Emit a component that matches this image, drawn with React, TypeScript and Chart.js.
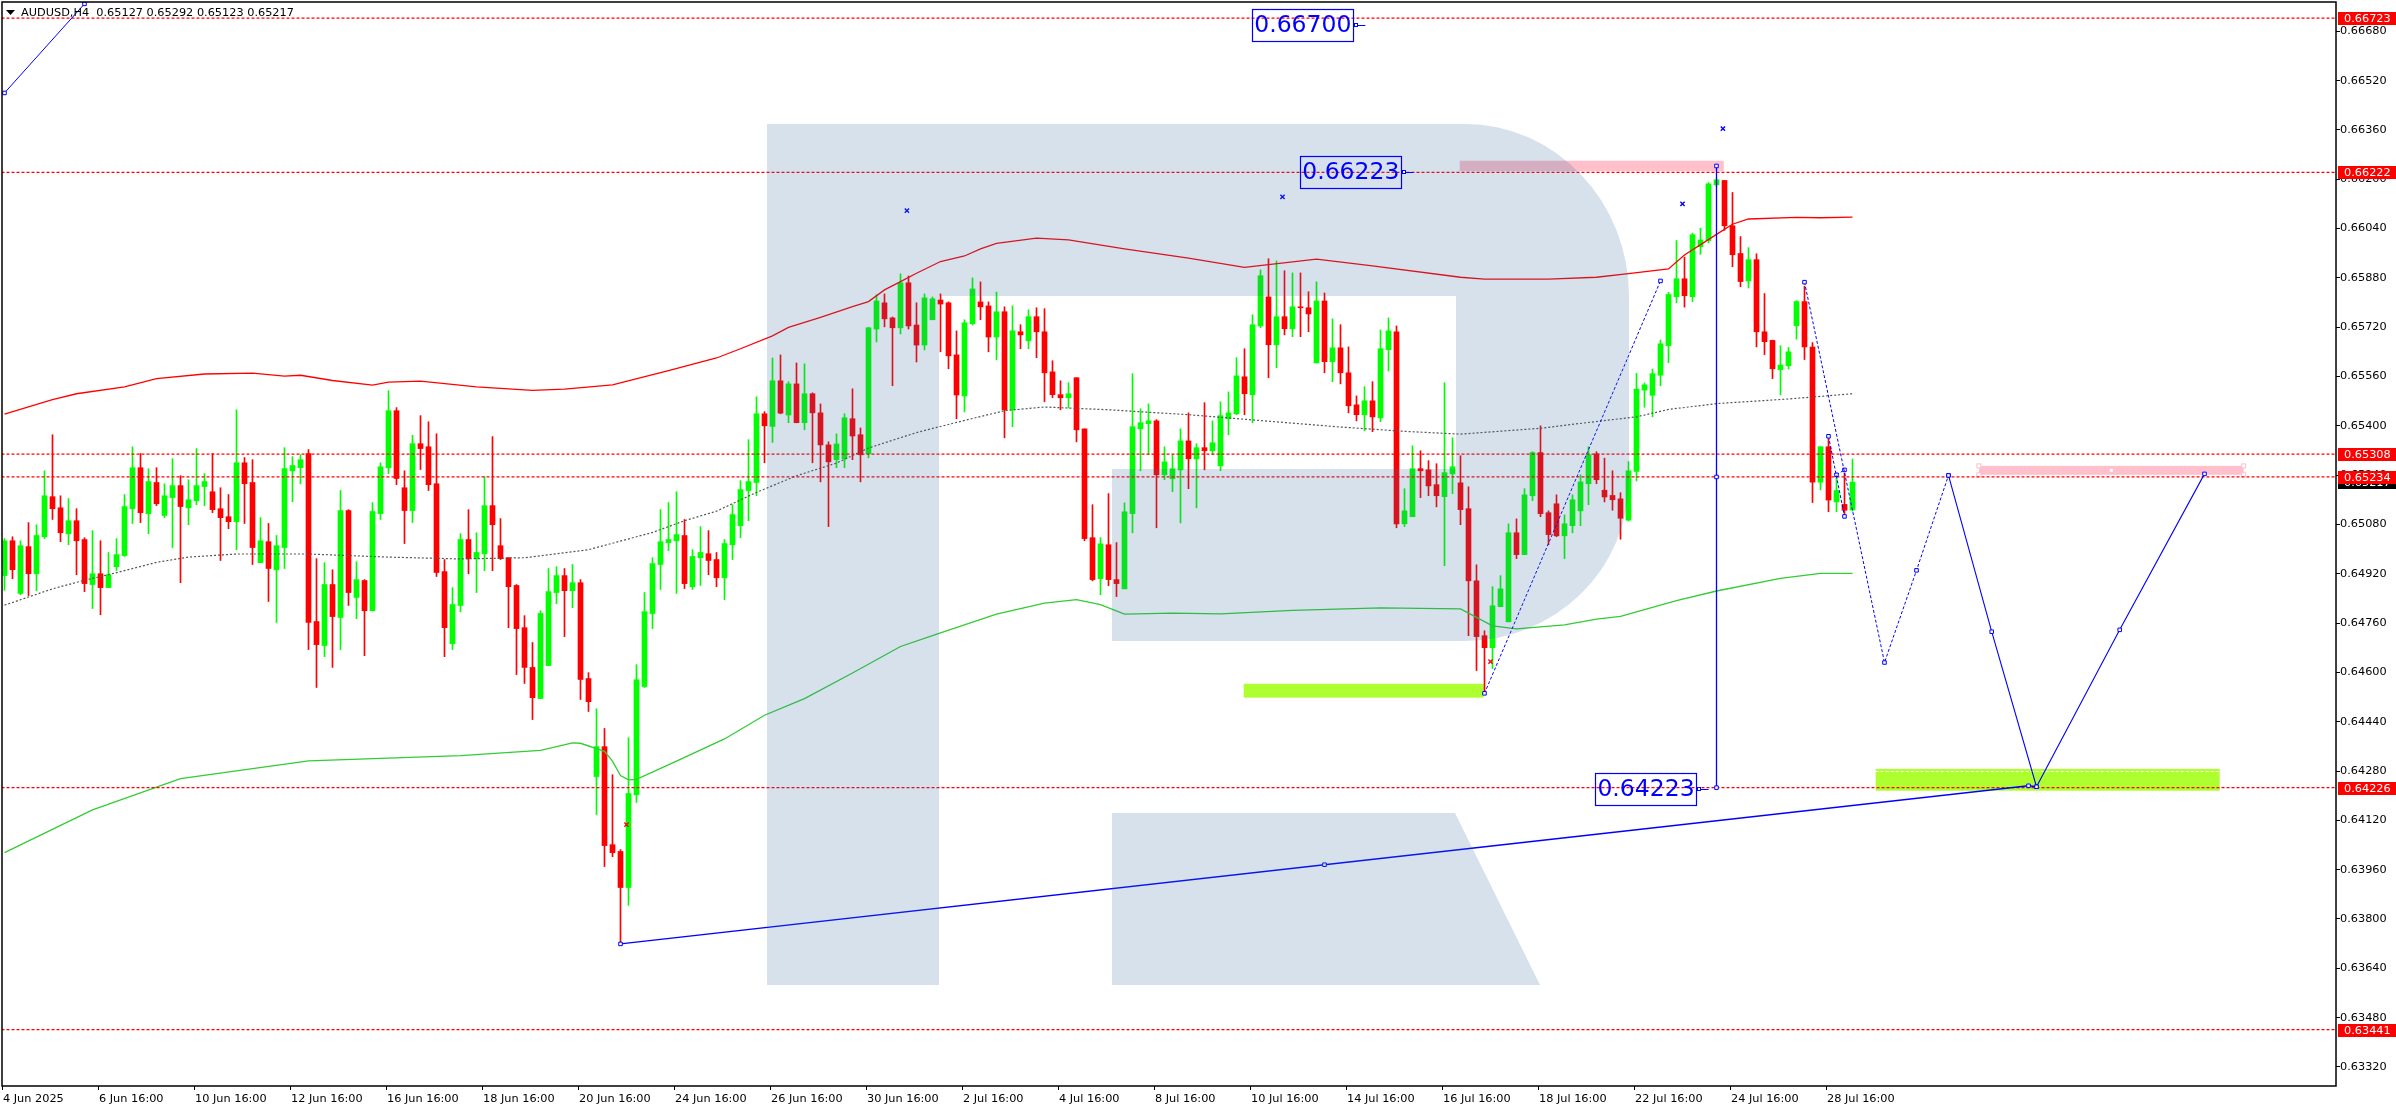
import React, { useEffect, useRef } from "react";
import { Chart, registerables } from "chart.js";

Chart.register(...registerables);

// All prices are in 1/100000 units.
const opens = [
64914,65027,64856,65008,64920,65040,65170,65134,65050,65092,65031,64885,64920,64875,64943,64979,65131,65264,65115,65216,
65109,65167,65206,65134,65157,65203,65186,65131,65105,65089,65280,65216,64956,65024,64933,65005,65254,65264,65310,64765,
64687,64885,64778,65125,64843,64898,64800,65115,65264,65449,65199,65125,65342,65332,65212,64927,64693,64817,65031,64969,
64985,65141,65011,64972,64882,64745,64616,64515,64622,64859,64914,64865,64891,64580,64262,64359,64041,64019,63902,64203,
64554,64791,64950,65021,65027,65044,64878,64972,64985,64966,64907,65014,65076,65190,65216,65439,65398,65546,65435,65536,
65410,65504,65442,65338,65290,65293,65423,65371,65309,65714,65799,65750,65718,65864,65727,65662,65744,65808,65799,65630,
65497,65731,65802,65789,65688,65770,65452,65705,65676,65754,65705,65575,65501,65491,65556,65390,65037,64904,65014,64901,
64871,65115,65390,65407,65416,65241,65228,65257,65351,65293,65329,65319,65270,65423,65439,65559,65501,65724,65818,65663,
65754,65715,65786,65783,65604,65805,65608,65653,65572,65468,65436,65481,65426,65647,65705,65082,65105,65261,65257,65209,
65170,65244,65215,65131,64897,64719,64680,64813,64764,65053,64982,65173,65313,65118,65147,65043,65076,65124,65212,65309,
65191,65174,65163,65094,65252,65516,65499,65564,65660,65819,65877,65819,65981,66001,66182,66196,66049,65959,65870,65939,
65705,65677,65582,65595,65725,65803,65655,65217,65332,65153,65145,65127];
const highs = [
65034,65040,65027,65086,65079,65254,65371,65173,65164,65131,65037,65060,65027,64989,65034,65177,65332,65310,65261,65264,
65212,65293,65238,65225,65326,65245,65310,65199,65177,65452,65297,65290,65102,65083,65044,65329,65300,65306,65323,64969,
64956,64933,65190,65128,64959,64901,65151,65280,65514,65459,65254,65369,65433,65413,65374,64966,64875,65050,65128,65053,
65235,65365,65099,64972,64885,64784,64697,64800,64937,64943,64937,64950,64901,64599,64482,64418,64268,64025,64388,64625,
64859,64972,65128,65151,65186,65096,64998,65073,65060,64989,65031,65144,65222,65355,65494,65446,65620,65630,65543,65604,
65601,65507,65471,65348,65374,65439,65520,65393,65720,65825,65828,65753,65893,65886,65799,65828,65818,65828,65802,65708,
65744,65880,65867,65802,65834,65786,65789,65728,65776,65783,65780,65611,65546,65540,65556,65390,65144,65037,65180,65021,
65150,65569,65455,65471,65420,65332,65306,65390,65442,65342,65475,65416,65478,65510,65621,65650,65760,65906,65942,65935,
65903,65896,65896,65835,65867,65831,65747,65728,65656,65497,65527,65543,65711,65750,65724,65196,65335,65319,65287,65277,
65540,65361,65303,65202,64949,64735,64878,64914,65082,65098,65196,65316,65400,65124,65176,65111,65176,65241,65332,65316,
65295,65254,65183,65284,65570,65539,65584,65678,65833,66001,65947,66025,66041,66189,66202,66196,66157,66014,65978,65958,
65829,65678,65660,65654,65806,65853,65670,65332,65358,65241,65247,65292];
const lows = [
64866,64904,64852,64849,64865,65034,65096,65024,65014,64917,64862,64807,64787,64875,64930,64976,65083,65086,65050,65141,
65102,65005,64891,65079,65144,65141,65118,64963,65066,64998,65083,64950,64956,64830,64762,64937,65154,65212,64674,64551,
64651,64616,64674,64817,64774,64654,64800,65096,65245,65209,65018,65086,65258,65190,64911,64651,64674,64797,64920,64859,
64930,64930,64966,64745,64593,64564,64447,64515,64622,64823,64716,64810,64512,64473,64139,63970,64002,63722,63844,64178,
64551,64742,64869,64995,64856,64872,64869,64882,64917,64878,64836,64966,65037,65092,65173,65280,65346,65439,65410,65410,
65387,65280,65218,65073,65264,65264,65290,65218,65296,65672,65721,65530,65698,65714,65607,65646,65744,65640,65585,65423,
65445,65727,65744,65640,65614,65361,65397,65650,65650,65621,65478,65491,65452,65458,65348,65027,64897,64852,64881,64846,
64871,65053,65254,65306,65069,65225,65186,65085,65196,65134,65257,65306,65254,65371,65436,65436,65410,65718,65556,65588,
65695,65689,65689,65705,65604,65572,65543,65536,65442,65416,65384,65381,65413,65578,65069,65073,65105,65167,65173,65137,
64946,65180,65079,64719,64606,64537,64612,64813,64764,64969,64982,65157,65105,65014,65040,64969,65053,65076,65144,65212,
65153,65126,65032,65091,65221,65460,65429,65530,65605,65799,65785,65803,65956,65994,66176,66034,65916,65851,65847,65656,
65631,65553,65500,65584,65681,65615,65151,65192,65121,65121,65113,65123];
const closes = [
65027,64933,65011,64920,65044,65173,65131,65053,65092,65027,64888,64920,64875,64917,64982,65138,65264,65118,65219,65147,
65173,65206,65138,65160,65206,65219,65128,65102,65089,65280,65212,65005,65027,64937,65011,65261,65271,65290,64762,64690,
64885,64781,65125,64859,64901,64800,65122,65267,65449,65229,65125,65342,65326,65209,64924,64745,64820,65031,64969,64989,
65141,65079,64969,64878,64742,64616,64518,64791,64862,64914,64865,64891,64577,64505,64359,64038,64015,63902,64207,64576,
64797,64953,65024,65031,65047,64888,64976,64989,64963,64907,65018,65112,65193,65219,65439,65400,65546,65441,65536,65410,
65504,65442,65338,65283,65341,65426,65367,65306,65718,65805,65747,65718,65864,65724,65662,65815,65812,65795,65627,65500,
65734,65844,65786,65688,65770,65452,65708,65695,65754,65705,65572,65501,65491,65504,65387,65034,64901,65017,64901,64888,
65121,65397,65410,65416,65241,65283,65261,65351,65293,65329,65319,65345,65433,65442,65562,65504,65728,65887,65663,65754,
65715,65786,65783,65763,65805,65608,65653,65572,65465,65436,65481,65429,65650,65708,65082,65124,65261,65254,65205,65173,
65248,65267,65128,64897,64716,64680,64816,64871,65053,64982,65176,65313,65115,65047,65043,65082,65160,65218,65306,65225,
65169,65160,65100,65254,65519,65533,65569,65666,65826,65877,65822,66020,66003,66185,66198,66049,65955,65868,65939,65705,
65673,65585,65597,65640,65803,65656,65217,65332,65159,65190,65126,65217];

const upperBars = [0,6,9,15,19,25,31,35,37,41,46,48,52,59,66,70,76,83,89,92,96,98,102,106,108,110,112,114,117,120,122,124,129,133,140,148,155,164,171,182,185,193,199,203,208,210,214,216,218,224,227,231];
const upperVals = [65438,65485,65504,65526,65553,65568,65571,65561,65564,65547,65532,65542,65545,65526,65515,65519,65533,65579,65620,65650,65692,65719,65752,65787,65803,65841,65868,65895,65933,65951,65974,65992,66009,66003,65974,65944,65914,65941,65919,65882,65876,65876,65882,65894,65909,65954,66021,66054,66071,66076,66075,66077];
const middleBars = [0,6,10,13,19,23,29,38,48,57,65,73,81,85,89,94,99,104,108,114,119,125,130,138,148,157,167,175,182,192,199,204,208,214,223,231];
const middleVals = [64818,64871,64899,64917,64957,64974,64984,64984,64974,64968,64972,64998,65054,65092,65123,65184,65238,65279,65328,65378,65411,65449,65461,65452,65436,65417,65396,65382,65373,65392,65414,65429,65453,65472,65487,65504];
const lowerBars = [0,11,22,38,57,67,71,72,75,76,77,78,79,84,90,95,100,106,112,117,124,130,134,137,140,146,152,161,172,182,186,189,195,199,202,209,214,222,227,231];
const lowerVals = [64015,64154,64255,64313,64330,64347,64371,64370,64344,64312,64265,64251,64253,64312,64384,64461,64515,64598,64684,64728,64789,64825,64836,64820,64789,64792,64790,64801,64809,64806,64751,64741,64754,64773,64782,64833,64864,64905,64921,64921];

const levels = [66723, 66222, 65308, 65234, 64226, 63441];
const priceTicks = [66680,66520,66360,66200,66040,65880,65720,65560,65400,65240,65080,64920,64760,64600,64440,64280,64120,63960,63800,63640,63480,63320];
const dateLabels = ["4 Jun 2025","6 Jun 16:00","10 Jun 16:00","12 Jun 16:00","16 Jun 16:00","18 Jun 16:00","20 Jun 16:00","24 Jun 16:00","26 Jun 16:00","30 Jun 16:00","2 Jul 16:00","4 Jul 16:00","8 Jul 16:00","10 Jul 16:00","14 Jul 16:00","16 Jul 16:00","18 Jul 16:00","22 Jul 16:00","24 Jul 16:00","28 Jul 16:00"];

const cornerLine = [[0, 66480], [10, 66769]];
const channelLine = [[77, 63719], [165, 63976], [253, 64232], [254, 64229]];
const verticalLine = [[214, 66243], [214, 65234], [214, 64226]];
const waveUp = [[185, 64532], [207, 65870]];
const waveDown = [[225, 65866], [235, 64632], [239, 64931], [243, 65239]];
const waveSmallA = [[228, 65366], [230, 65106]];
const waveSmallB = [[229, 65241], [230, 65257]];
const forecast = [[243, 65239], [248.4, 64732], [254, 64229], [264.4, 64738], [275, 65244]];
const blueCrosses = [[112.8, 66098], [159.75, 66143], [209.75, 66120], [214.8, 66364]];
const redCrosses = [[77.75, 64106], [185.75, 64635]];

const greenZones = [[154.9, 184.9, 64563, 64518], [233.9, 276.9, 64287, 64216]];
const pinkZones = [[181.9, 214.9, 66260, 66226], [246.8, 279.9, 65270, 65241]];

const priceNotes = [
  { text: "0.66700", bar: 168.6, price: 66700 },
  { text: "0.66223", bar: 174.6, price: 66223 },
  { text: "0.64223", bar: 211.5, price: 64223 },
];
const headerText = "AUDUSD,H4  0.65127 0.65292 0.65123 0.65217";
const lastPrice = 65217;

const FONT = '11.3px "DejaVu Sans"';
const p = (v: number) => v / 100000;
const xy = (pts: number[][]) => pts.map(([x, y]) => ({ x, y: p(y) }));
const zip = (b: number[], v: number[]) => b.map((x, i) => ({ x, y: p(v[i]) }));

const overlayPlugin = {
  id: "overlay",
  beforeDatasetsDraw(chart: any) {
    const { ctx, scales } = chart;
    const X = scales.x, Y = scales.y;
    const zone = (z: number[], color: string) => {
      const l = X.getPixelForValue(z[0]), r = X.getPixelForValue(z[1]);
      const t = Y.getPixelForValue(p(z[2])), b = Y.getPixelForValue(p(z[3]));
      ctx.fillStyle = color;
      ctx.fillRect(l, t, r - l, b - t);
      return [l, t, r, b];
    };
    ctx.save();
    greenZones.forEach((z) => zone(z, "#adff2f"));
    pinkZones.forEach((z) => zone(z, "#ffc0cb"));
    // inner dashed edges and selection handles
    const [gl, gt, gr] = [X.getPixelForValue(greenZones[1][0]), Y.getPixelForValue(p(greenZones[1][2])), X.getPixelForValue(greenZones[1][1])];
    ctx.strokeStyle = "#ffffff";
    ctx.lineWidth = 1;
    ctx.setLineDash([3, 2]);
    ctx.beginPath();
    ctx.moveTo(gl, Math.round(gt) + 2.5);
    ctx.lineTo(gr, Math.round(gt) + 2.5);
    ctx.stroke();
    ctx.setLineDash([]);
    const z = pinkZones[1];
    const pl = X.getPixelForValue(z[0]), pr = X.getPixelForValue(z[1]);
    const pt = Y.getPixelForValue(p(z[2])), pb = Y.getPixelForValue(p(z[3]));
    ctx.strokeStyle = "#ffc0cb";
    ctx.fillStyle = "#ffffff";
    [[pl, pt], [pr, pt], [pl, pb], [pr, pb]].forEach(([a, b]) => {
      ctx.fillRect(a - 2, b - 2, 4, 4);
      ctx.strokeRect(a - 2, b - 2, 4, 4);
    });
    ctx.fillRect((pl + pr) / 2 - 1.5, (pt + pb) / 2 - 1.5, 3, 3);
    ctx.restore();
  },
  afterDatasetsDraw(chart: any) {
    const { ctx, scales } = chart;
    const X = scales.x, Y = scales.y;
    ctx.save();
    // broker logo watermark
    ctx.fillStyle = "rgba(49,103,162,0.2)";
    ctx.beginPath();
    ctx.moveTo(767, 124);
    ctx.lineTo(1465, 124);
    ctx.ellipse(1465, 296, 164, 172, 0, -Math.PI / 2, 0);
    ctx.lineTo(1629, 480);
    ctx.ellipse(1465, 480, 164, 161, 0, 0, Math.PI / 2);
    ctx.lineTo(1112, 641);
    ctx.lineTo(1112, 469);
    ctx.lineTo(1456, 469);
    ctx.lineTo(1456, 296);
    ctx.lineTo(939, 296);
    ctx.lineTo(939, 985);
    ctx.lineTo(767, 985);
    ctx.closePath();
    ctx.moveTo(1112, 813);
    ctx.lineTo(1455, 813);
    ctx.lineTo(1540, 985);
    ctx.lineTo(1112, 985);
    ctx.closePath();
    ctx.fill();

    // price notes
    priceNotes.forEach((n) => {
      const right = X.getPixelForValue(n.bar);
      const yy = Y.getPixelForValue(p(n.price));
      const w = 101, h = 33;
      ctx.strokeStyle = "#0000ff";
      ctx.lineWidth = 1.2;
      ctx.strokeRect(Math.round(right - w) + 0.5, Math.round(yy - 16) + 0.5, w, h - 1);
      ctx.fillStyle = "#0000ff";
      ctx.font = '23.5px "DejaVu Sans"';
      ctx.textAlign = "center";
      ctx.textBaseline = "middle";
      ctx.fillText(n.text, right - w / 2, yy + 1);
      ctx.beginPath();
      ctx.moveTo(right + 4, Math.round(yy) + 0.5);
      ctx.lineTo(right + 12, Math.round(yy) + 0.5);
      ctx.lineWidth = 1;
      ctx.stroke();
      ctx.fillStyle = "#ffffff";
      ctx.fillRect(Math.round(right) + 1, Math.round(yy) - 2, 3, 4);
      ctx.strokeRect(Math.round(right) + 1.5, Math.round(yy) - 1.5, 3, 3);
    });
    ctx.restore();
  },
  afterDraw(chart: any) {
    const { ctx, chartArea, scales } = chart;
    const Y = scales.y;
    ctx.save();
    ctx.strokeStyle = "#000000";
    ctx.lineWidth = 1.5;
    ctx.strokeRect(chartArea.left, chartArea.top, chartArea.right - chartArea.left, chartArea.bottom - chartArea.top);

    // header
    ctx.font = FONT;
    ctx.fillStyle = "#000000";
    ctx.textAlign = "left";
    ctx.textBaseline = "middle";
    ctx.fillText(headerText, 21, 13);
    ctx.beginPath();
    ctx.moveTo(6, 10);
    ctx.lineTo(15, 10);
    ctx.lineTo(10.5, 15);
    ctx.closePath();
    ctx.fill();

    // price tags on the axis
    const tag = (v: number, bg: string) => {
      const yy = Math.round(Y.getPixelForValue(p(v)));
      ctx.fillStyle = bg;
      ctx.fillRect(2338, yy - 6, 58, 13);
      ctx.fillStyle = "#ffffff";
      ctx.fillText(p(v).toFixed(5), 2344, yy + 1);
    };
    tag(lastPrice, "#000000");
    levels.forEach((v) => tag(v, "#ff0000"));
    ctx.restore();
  },
};

export default function App() {
  const ref = useRef<HTMLCanvasElement | null>(null);
  useEffect(() => {
    if (!ref.current) return;
    const idx = opens.map((_, i) => i);
    const colors = opens.map((o, i) => (closes[i] >= o ? "#00ff00" : "#ff0000"));
    const line = (data: any[], color: string, width: number, order: number, dash: number[] = [], radius = 0) => ({
      type: "line",
      data,
      borderColor: color,
      borderWidth: width,
      borderDash: dash,
      pointRadius: radius,
      pointStyle: "rect",
      pointBackgroundColor: "#ffffff",
      pointBorderColor: color,
      pointBorderWidth: 1,
      tension: 0,
      fill: false,
      order,
    });
    const chart = new Chart(ref.current, {
      type: "bar",
      data: {
        datasets: [
          {
            type: "bar",
            data: idx.map((i) => ({ x: i, y: [p(lows[i]), p(highs[i])] })),
            backgroundColor: colors,
            barThickness: 1,
            grouped: false,
            order: 31,
          },
          {
            type: "bar",
            data: idx.map((i) => ({ x: i, y: [p(opens[i]), p(closes[i])] })),
            backgroundColor: colors,
            barThickness: 5,
            grouped: false,
            order: 30,
          },
          line(zip(upperBars, upperVals), "#ff0000", 1.3, 20),
          line(zip(middleBars, middleVals), "#555555", 1.2, 21, [2, 2]),
          line(zip(lowerBars, lowerVals), "#32cd32", 1.3, 22),
          ...levels.map((v) =>
            line([{ x: -1, y: p(v) }, { x: 292, y: p(v) }], "#ff0000", 1.2, 15, [3, 2])
          ),
          line(xy(cornerLine), "#0000ff", 1, 10, [], 2.5),
          line(xy(channelLine), "#0000ff", 1.4, 10, [], 2.5),
          line(xy(verticalLine), "#0000ff", 1.3, 10, [], 2.5),
          line(xy(waveUp), "#0000ff", 1, 10, [3, 2], 2.5),
          line(xy(waveDown), "#0000ff", 1, 10, [3, 2], 2.5),
          line(xy(waveSmallA), "#0000ff", 1, 10, [3, 2], 2.5),
          line(xy(waveSmallB), "#0000ff", 1, 10, [3, 2], 2.5),
          line(xy(forecast), "#0000ff", 1.1, 10, [], 2.5),
          {
            ...line(xy(blueCrosses), "#0000ff", 1, 5, [], 3),
            showLine: false,
            pointStyle: "crossRot",
            pointBorderWidth: 1.4,
          },
          {
            ...line(xy(redCrosses), "#ff0000", 1, 5, [], 3),
            showLine: false,
            pointStyle: "crossRot",
            pointBorderWidth: 1.4,
          },
        ] as any,
      },
      options: {
        responsive: false,
        animation: false,
        devicePixelRatio: 1,
        layout: { autoPadding: false, padding: { left: 2, top: 2, right: 0, bottom: 0 } },
        plugins: { legend: { display: false }, tooltip: { enabled: false }, title: { display: false } },
        events: [],
        scales: {
          x: {
            type: "linear",
            offset: false,
            bounds: "data",
            min: -0.3125,
            max: 291.4375,
            grid: { display: true, offset: false, drawOnChartArea: false, drawTicks: true, tickLength: 4, color: "#000000" },
            border: { display: false },
            ticks: {
              color: "#000000",
              font: { family: "DejaVu Sans", size: 11.3 },
              padding: 2,
              align: "start",
              maxRotation: 0,
              minRotation: 0,
              autoSkip: false,
              callback: (v: any) => dateLabels[Math.round(v / 12)] ?? "",
            },
            afterBuildTicks: (s: any) => {
              s.ticks = dateLabels.map((_, i) => ({ value: i * 12 - 0.19 }));
              s.min = -0.3125;
              s.max = 291.4375;
            },
            afterFit: (s: any) => {
              s.height = 24;
              s.paddingLeft = 0;
              s.paddingRight = 0;
            },
          },
          y: {
            type: "linear",
            position: "right",
            bounds: "data",
            min: 0.63258,
            max: 0.66775,
            grid: { display: true, drawOnChartArea: false, drawTicks: true, tickLength: 4, color: "#000000" },
            border: { display: false },
            ticks: {
              color: "#000000",
              font: { family: "DejaVu Sans", size: 11.3 },
              padding: 0,
              autoSkip: false,
              callback: (v: any) => Number(v).toFixed(5),
            },
            afterBuildTicks: (s: any) => {
              s.ticks = priceTicks.map((v) => ({ value: p(v) }));
              s.min = 0.63258;
              s.max = 0.66775;
            },
            afterFit: (s: any) => {
              s.width = 60;
              s.paddingTop = 0;
              s.paddingBottom = 0;
            },
          },
        },
      } as any,
      plugins: [overlayPlugin],
    });
    return () => chart.destroy();
  }, []);
  return (
    <div style={{ position: "fixed", left: 0, top: 0, width: 2396, height: 1110, background: "#ffffff" }}>
      <canvas ref={ref} width={2396} height={1110} style={{ display: "block", width: 2396, height: 1110 }} />
    </div>
  );
}
